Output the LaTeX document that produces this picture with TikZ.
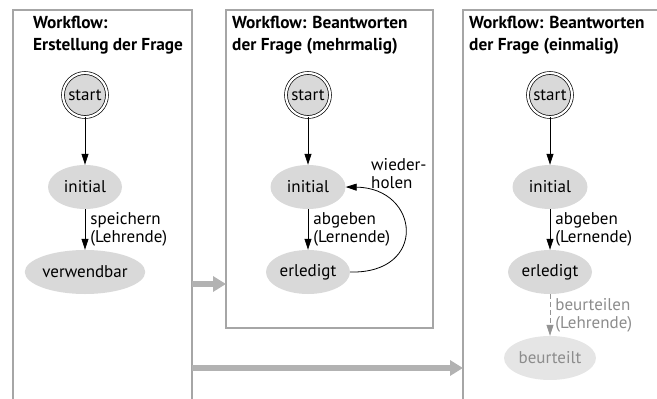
\documentclass[tikz,border=0pt]{standalone}
\usepackage{fontspec}
\setmainfont{PT Sans}
\usetikzlibrary{arrows.meta, shapes.geometric, positioning}

\begin{document}
\begin{tikzpicture}[x=1pt, y=-1pt,
  font=\fontsize{17}{18}\selectfont,
  rahmen/.style={draw=gray!70, line width=1.1pt},
  titel/.style={anchor=north west, align=left, inner sep=0pt,
    font=\fontsize{17.3}{22}\selectfont\bfseries},
  startknoten/.style={circle, draw, double, double distance=2.2pt, line width=0.7pt,
    fill=gray!30, minimum size=44pt, inner sep=0pt},
  zustand/.style={ellipse, fill=gray!30, minimum height=44pt, inner sep=0pt},
  pfeil/.style={-{Triangle[length=11pt,width=7pt]}, line width=0.8pt},
  grau/.style={draw=gray!85, text=gray!90, dashed, dash pattern=on 5pt off 3pt},
  marke/.style={align=left, inner sep=0pt, anchor=west},
  grosspfeil/.style={-{Triangle[length=13pt,width=15pt]}, line width=6pt, draw=gray!60}]
\useasboundingbox (0,0) rectangle (657,399);

% Rahmen der drei Workflows
\draw[rahmen] (13,399) -- (13,10) -- (192,10) -- (192,399);
\draw[rahmen] (226,10) rectangle (433,328);
\draw[rahmen] (463,399) -- (463,10) -- (657,10);

% Titel
\node[titel] (t1) at (33,16) {Workflow:\\Erstellung der Frage};
\node[titel] (t2) at (232,16) {Workflow: Beantworten\\der Frage (mehrmalig)};
\node[titel] (t3) at (469,16) {Workflow: Beantworten\\der Frage (einmalig)};

% Erstellung der Frage
\node[startknoten] (s1) at (85,95) {start};
\node[zustand, minimum width=74pt] (i1) at (85,187) {initial};
\node[zustand, minimum width=104pt] (v1) at (85,272) {verwendbar};
\draw[pfeil] (s1) -- (i1);
\draw[pfeil] (i1) -- node[marke, xshift=5pt] {speichern\\(Lehrende)} (v1);

% Beantworten (mehrmalig)
\node[startknoten] (s2) at (308,95) {start};
\node[zustand, minimum width=75pt] (i2) at (308,187) {initial};
\node[zustand, minimum width=84pt] (e2) at (308,272) {erledigt};
\draw[pfeil] (s2) -- (i2);
\draw[pfeil] (i2) -- node[marke, xshift=5pt] {abgeben\\(Lernende)} (e2);
\draw[pfeil] (e2.east) .. controls (428,274) and (420,188) .. (i2.east);
\node[marke] (w2) at (371,174) {wieder-\\holen};

% Beantworten (einmalig)
\node[startknoten] (s3) at (550,95) {start};
\node[zustand, minimum width=75pt] (i3) at (550,187) {initial};
\node[zustand, minimum width=84pt] (e3) at (550,272) {erledigt};
\node[zustand, minimum width=92pt, fill=gray!20, text=gray!90] (b3) at (550,358) {beurteilt};
\draw[pfeil] (s3) -- (i3);
\draw[pfeil] (i3) -- node[marke, xshift=5pt] {abgeben\\(Lernende)} (e3);
\draw[pfeil, grau] (e3) -- node[marke, xshift=5pt, solid] {beurteilen\\(Lehrende)} (b3);

% Uebergaenge zwischen den Workflows
\coordinate (a1) at (192,284);
\coordinate (a2) at (226,284);
\coordinate (b1) at (192,368);
\coordinate (b2) at (463,368);
\draw[grosspfeil] (a1) -- (a2);
\draw[grosspfeil] (b1) -- (b2);
\end{tikzpicture}
\end{document}
